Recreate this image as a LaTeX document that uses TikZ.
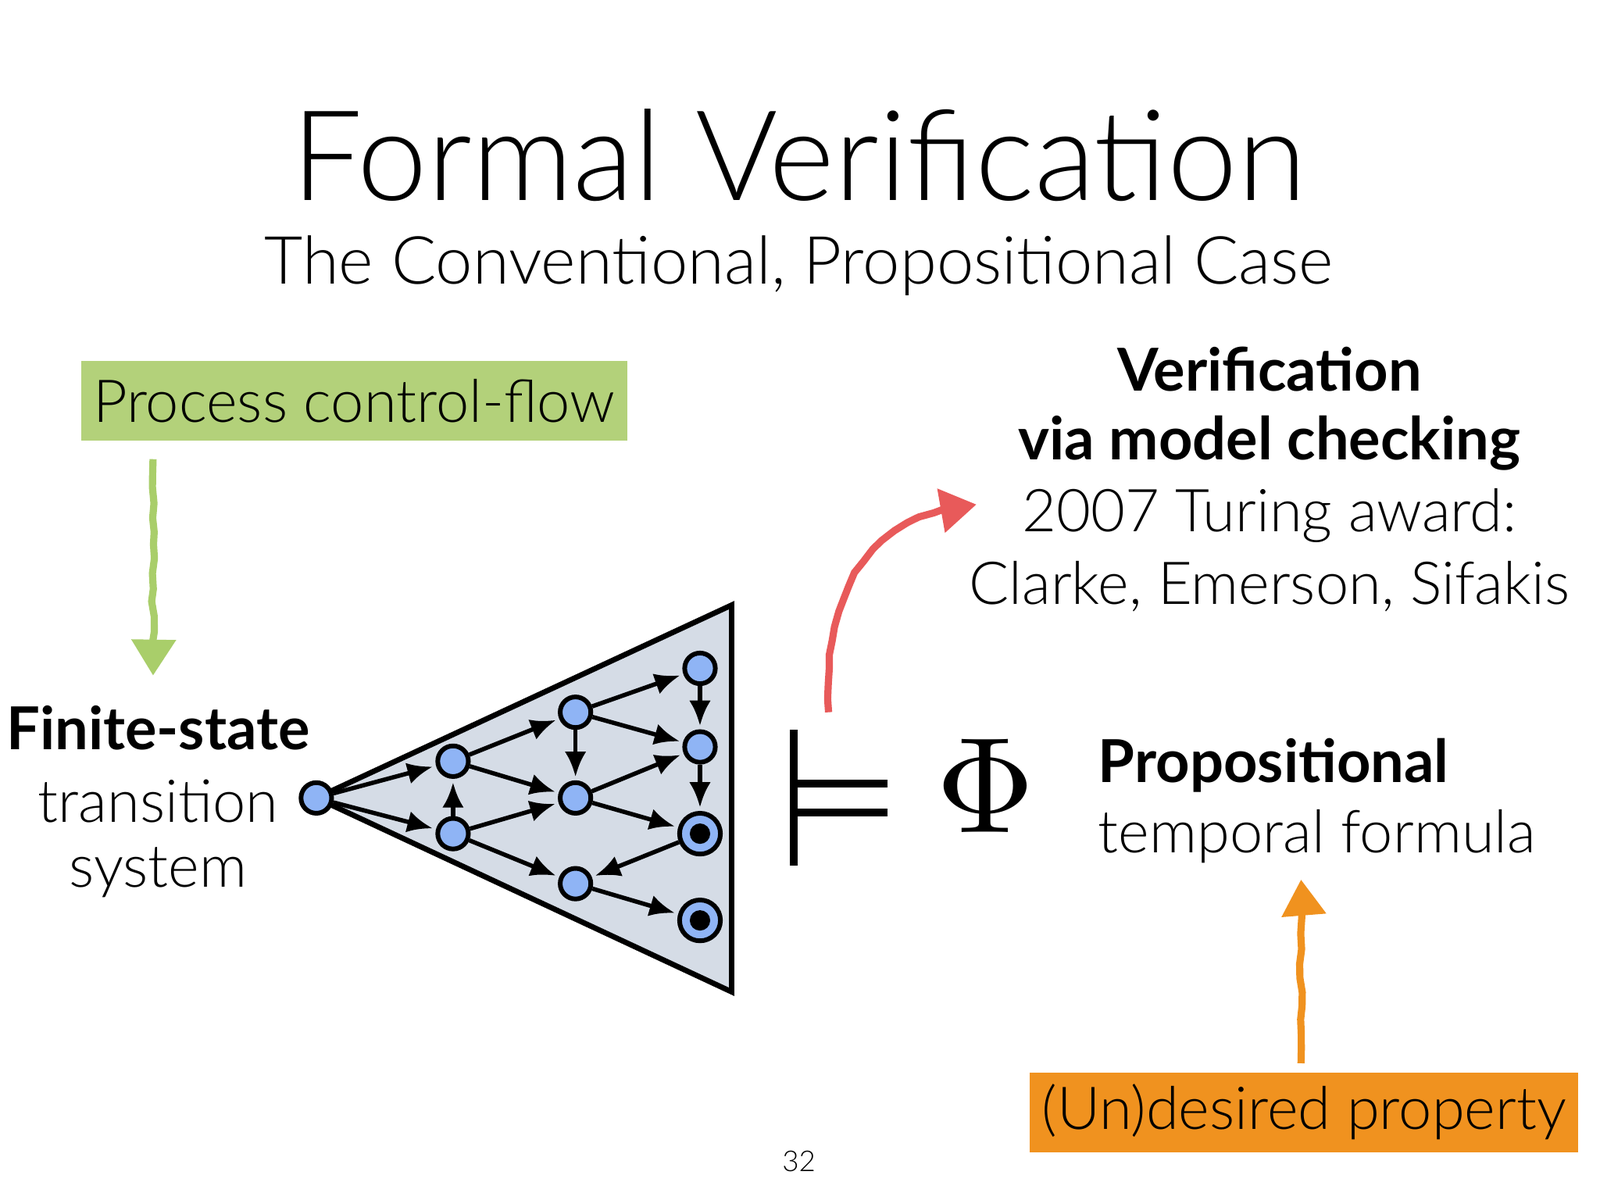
\documentclass[tikz,border=0pt]{standalone}
\usepackage{fontspec}
\setmainfont{Lato Light}[BoldFont={Lato Bold}]
\usetikzlibrary{arrows.meta,decorations.pathmorphing}
\definecolor{gbox}{HTML}{B3D17A}
\definecolor{obox}{HTML}{F0921F}
\definecolor{tri}{HTML}{D5DCE6}
\definecolor{st}{HTML}{8FB4F5}
\definecolor{rarr}{HTML}{E85A5A}
\definecolor{garr}{HTML}{A9CE6A}
\tikzset{
 x=0.01cm,y=-0.01cm,
 state/.style={circle,draw,fill=st,line width=1.3pt,minimum size=0.3cm,inner sep=0pt},
 ed/.style={-{Latex[length=7pt,width=6pt]},line width=1.2pt,shorten >=1pt},
 big/.style={font=\fontsize{16.5}{20}\selectfont},
 bigb/.style={font=\fontsize{16.5}{20}\selectfont\bfseries},
 hand/.style={line width=2pt,decorate,decoration={random steps,segment length=4pt,amplitude=0.4pt},-{Triangle[length=10pt,width=12pt]}},
}
\begin{document}
\begin{tikzpicture}
\useasboundingbox (0,0) rectangle (1568,1176);
\fill[white] (0,0) rectangle (1568,1176);
\node[font=\fontsize{35}{40}\selectfont] (title) at (783,152) {Formal Verification};
\node[font=\fontsize{18.5}{22}\selectfont] (sub) at (783,260) {The Conventional, Propositional Case};
\node[fill=gbox,minimum width=5.11cm,minimum height=0.78cm,big] (pc) at (347,393) {Process control-flow};
\coordinate (g1) at (150,450); \coordinate (g2) at (150,662);
\draw[hand,garr] (g1) -- (g2);
\node[bigb] (fs) at (155,713) {Finite-state};
\node[big] (tr) at (155,785) {transition};
\node[big] (sy) at (155,855) {system};
\draw[fill=tri,line width=1.5pt] (310,782) -- (717,593) -- (717,972) -- cycle;
\node[state] (s0) at (310,782) {};
\node[state] (a) at (444,746) {};
\node[state] (b) at (444,817) {};
\node[state] (c) at (564,698) {};
\node[state] (d) at (564,782) {};
\node[state] (e) at (564,866) {};
\node[state] (f) at (686,655) {};
\node[state] (g) at (686,732) {};
\node[state,minimum size=0.4cm] (h) at (686,817) {};
\fill (h) circle (0.1cm);
\node[state,minimum size=0.4cm] (i) at (686,902) {};
\fill (i) circle (0.1cm);
\foreach \u/\v in {s0/a,s0/b,b/a,a/c,a/d,b/d,b/e,c/f,c/g,c/d,d/g,d/h,f/g,g/h,h/e,e/i}
  \draw[ed] (\u) -- (\v);
\coordinate (m1) at (778,715); \coordinate (m2) at (778,848);
\draw[line width=2.2pt] (m1) -- (m2);
\draw[line width=2.2pt] (782,768) -- (870,768) (782,796) -- (870,796);
\node[inner sep=0] (phi) at (966,770) {\scalebox{3.8}{$\Phi$}};
\coordinate (r1) at (812,698); \coordinate (r2) at (957,495);
\draw[hand,rarr] (r1) .. controls (805,560) and (870,500) .. (r2);
\node[bigb] (v1) at (1244,362) {Verification};
\node[bigb] (v2) at (1244,434) {via model checking};
\node[big] (v3) at (1244,505) {2007 Turing award:};
\node[big] (v4) at (1244,575) {Clarke, Emerson, Sifakis};
\node[bigb,anchor=west] (p1) at (1064,750) {Propositional};
\node[big,anchor=west] (p2) at (1064,820) {temporal formula};
\node[fill=obox,minimum width=5.3cm,minimum height=0.76cm,big] (ud) at (1278,1090) {(Un)desired property};
\coordinate (o1) at (1275,1042); \coordinate (o2) at (1275,862);
\draw[hand,obox] (o1) -- (o2);
\node[font=\fontsize{8}{9}\selectfont] (pg) at (783,1138) {32};
\end{tikzpicture}
\end{document}
